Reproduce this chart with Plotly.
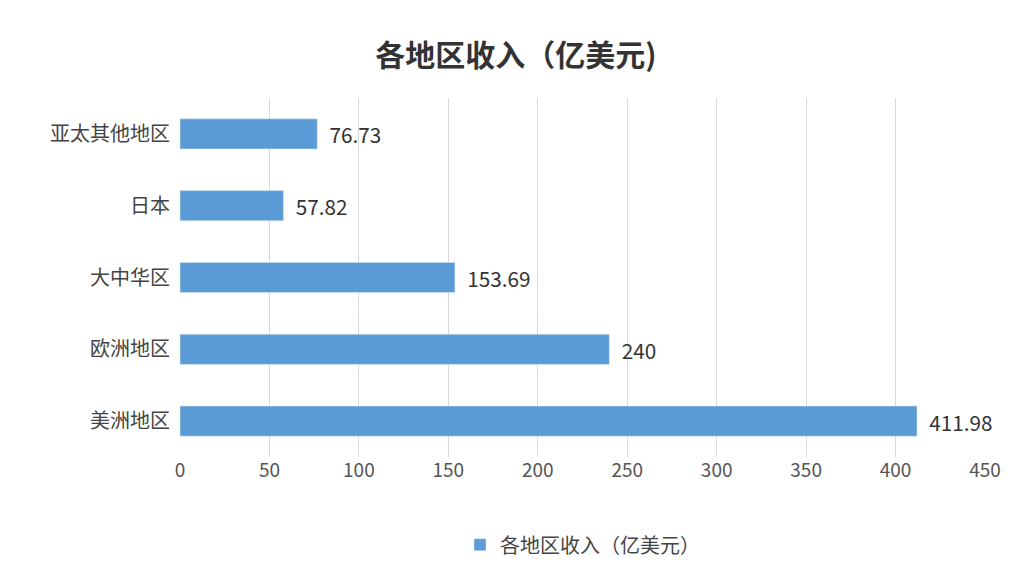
import plotly.graph_objects as go

regions = ["美洲地区", "欧洲地区", "大中华区", "日本", "亚太其他地区"]
revenue = [411.98, 240, 153.69, 57.82, 76.73]
labels = ["411.98", "240", "153.69", "57.82", "76.73"]
series_name = "各地区收入（亿美元）"

# page body adds an 8px offset, so shift margins to line up with the reference
L, R, T, B = 172, 39, 90, 122

fig = go.Figure(
    go.Bar(
        y=regions,
        x=revenue,
        orientation="h",
        name=series_name,
        marker_color="#5B9BD5",
        width=0.42,
        text=["  " + s for s in labels],
        textposition="outside",
        textfont=dict(size=22, color="#333"),
        cliponaxis=False,
        showlegend=True,
    )
)

fig.update_layout(
    width=1016,
    height=571,
    title=dict(text="<b>各地区收入（亿美元)</b>", x=0.5, y=0.935, xanchor="center",
               font=dict(size=30, color="#333")),
    font=dict(family="Noto Sans CJK SC", color="#555"),
    plot_bgcolor="white",
    paper_bgcolor="white",
    margin=dict(l=L, r=R, t=T, b=B, autoexpand=False),
    xaxis=dict(range=[0, 450], dtick=50, showgrid=True, gridcolor="#d9d9d9",
               tickfont=dict(size=19, color="#555"), zeroline=False, ticks=""),
    yaxis=dict(tickfont=dict(size=20, color="#444"), ticksuffix="  ",
               range=[-0.5, 4.5]),
    legend=dict(orientation="h", x=0.5, xanchor="center", y=-0.19,
                yanchor="top", bgcolor="rgba(0,0,0,0)",
                font=dict(size=20, color="#444")),
)

fig.write_html("out.html")
